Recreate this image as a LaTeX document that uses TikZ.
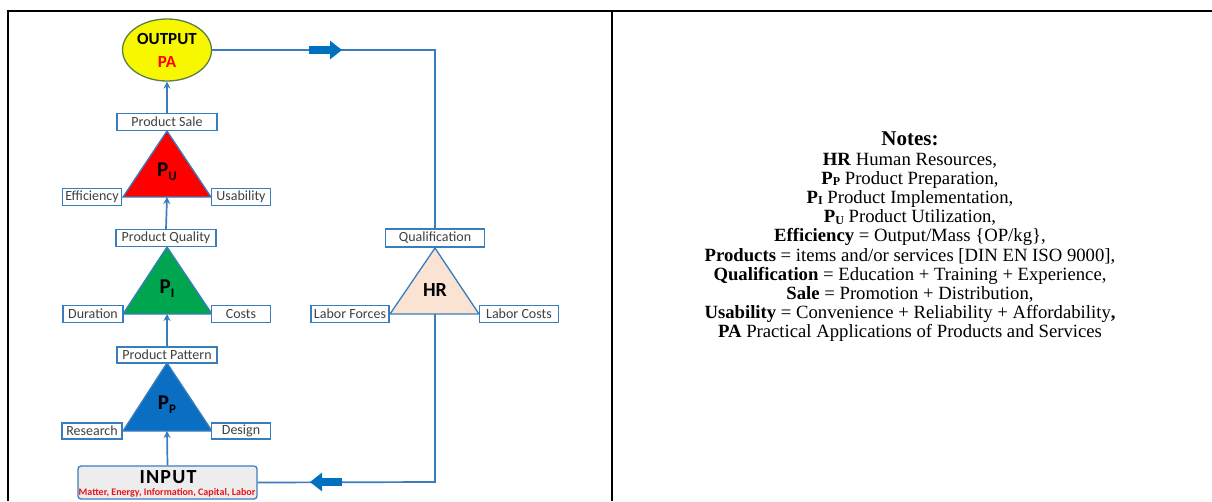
\documentclass[tikz,border=0pt]{standalone}
\usepackage{fontspec}
\setmainfont{Liberation Serif}
\newfontfamily\calfont{Carlito}
\usetikzlibrary{arrows.meta,shapes.geometric}
\definecolor{lineblue}{HTML}{3A7DBD}
\definecolor{blockblue}{HTML}{0070C0}
\definecolor{boxtext}{HTML}{404040}
\definecolor{ppblue}{HTML}{0A6EC2}
\definecolor{pigreen}{HTML}{00A550}
\definecolor{pured}{HTML}{FF0000}
\definecolor{hrpeach}{HTML}{FBE3D4}
\definecolor{outyellow}{HTML}{F7F700}
\definecolor{outedge}{HTML}{5B7F45}
\definecolor{inputgray}{HTML}{EDEDED}
\definecolor{inred}{HTML}{E8141C}
\tikzset{
  lbl/.style={draw=lineblue, line width=1.3pt, fill=white, text=boxtext,
    font=\calfont\fontsize{14}{16}\selectfont, inner sep=0pt,
    minimum height=17pt, anchor=center},
  conn/.style={draw=lineblue, line width=1.7pt},
  uparrow/.style={conn, -{Stealth[length=7pt,width=7pt]}},
  blockarrow/.style={draw=blockblue, line width=8.5pt,
    -{Triangle[length=12pt,width=18pt]}},
  tri/.style={draw=lineblue, line width=1.3pt, line join=miter},
  trilabel/.style={font=\calfont\bfseries\fontsize{21}{23}\selectfont, text=black, inner sep=0pt},
  frame/.style={line width=2.2pt, draw=black}
}
\begin{document}
\begin{tikzpicture}[x=1pt,y=-1pt]
\useasboundingbox (0,0) rectangle (1212,501);
% table frame
\draw[frame] (7,11) -- (1212,11);
\draw[frame] (8,11) -- (8,501);
\draw[frame] (612,11) -- (612,501);

% ---- coordinates of triangles
\coordinate (pu-top) at (167,131);
\coordinate (pu-l) at (123,197);
\coordinate (pu-r) at (211,197);
\coordinate (pu-b) at (167,197);
\coordinate (pi-top) at (167,247);
\coordinate (pi-l) at (123,314);
\coordinate (pi-r) at (212,314);
\coordinate (pi-b) at (167,314);
\coordinate (pp-top) at (167,363);
\coordinate (pp-l) at (123,431);
\coordinate (pp-r) at (212,431);
\coordinate (pp-b) at (167,431);
\coordinate (hr-top) at (435,248);
\coordinate (hr-l) at (390,314);
\coordinate (hr-r) at (479,314);
\coordinate (hr-b) at (435,314);

% triangles
\path[tri, fill=pured] (pu-top) -- (pu-l) -- (pu-r) -- cycle;
\path[tri, fill=pigreen] (pi-top) -- (pi-l) -- (pi-r) -- cycle;
\path[tri, fill=ppblue] (pp-top) -- (pp-l) -- (pp-r) -- cycle;
\path[tri, fill=hrpeach] (hr-top) -- (hr-l) -- (hr-r) -- cycle;

\node[trilabel] (pu) at (167,172) {P\raisebox{-4pt}{\fontsize{13}{13}\selectfont U}};
\node[trilabel] (pi) at (167,289) {P\raisebox{-4pt}{\fontsize{13}{13}\selectfont I}};
\node[trilabel] (pp) at (167,405) {P\raisebox{-4pt}{\fontsize{13}{13}\selectfont P}};
\node[trilabel, font=\calfont\bfseries\fontsize{20}{22}\selectfont] (hr) at (435,290) {HR};

% output ellipse
\node[ellipse, draw=outedge, line width=1.3pt, fill=outyellow,
  minimum width=89pt, minimum height=62pt, inner sep=0pt] (out) at (167,50) {};
\node[font=\calfont\bfseries\fontsize{17}{19}\selectfont, inner sep=0pt] (outt) at (167,39) {OUTPUT};
\node[font=\calfont\bfseries\fontsize{17}{19}\selectfont, text=pured, inner sep=0pt] (pa) at (167,62) {PA};

% boxes
\node[lbl, minimum width=100pt] (sale) at (167,122) {Product Sale};
\node[lbl, minimum width=59pt] (eff) at (92,197) {Efficiency};
\node[lbl, minimum width=59pt] (usa) at (241,197) {Usability};
\node[lbl, minimum width=100pt] (qual) at (166,238) {Product Quality};
\node[lbl, minimum width=60pt] (dur) at (93,314) {Duration};
\node[lbl, minimum width=59pt] (cost) at (241,314) {Costs};
\node[lbl, minimum width=100pt, minimum height=16pt] (patt) at (167,355) {Product Pattern};
\node[lbl, minimum width=60pt, minimum height=16pt] (res) at (92,431) {Research};
\node[lbl, minimum width=59pt, minimum height=16pt] (des) at (241,431) {Design};
\node[lbl, minimum width=99pt, minimum height=18pt] (qualif) at (435,238) {Qualification};
\node[lbl, minimum width=78pt] (lf) at (350,314) {Labor Forces};
\node[lbl, minimum width=79pt] (lc) at (519,314) {Labor Costs};

% input box
\node[draw=lineblue, line width=1.3pt, fill=inputgray, rounded corners=3pt,
  minimum width=179pt, minimum height=33pt, inner sep=0pt] (input) at (167.5,482.5) {};
\node[font=\calfont\bfseries\fontsize{20}{22}\selectfont, inner sep=0pt] (inputt) at (168,477) {\addfontfeature{LetterSpace=6}INPUT};
\node[font=\calfont\bfseries\fontsize{10}{11}\selectfont, text=inred, inner sep=0pt] (inputs) at (167,493) {Matter, Energy, Information, Capital, Labor};

% vertical arrows in the left column
\draw[uparrow] (sale.north) -- (out.south);
\draw[uparrow] (qual.north) -- (pu-b);
\draw[uparrow] (patt.north) -- (pi-b);
\draw[uparrow] (input.north) -- (pp-b);

% feedback loop
\coordinate (tr) at (435,50);
\coordinate (br) at (435,482);
\coordinate (ta1) at (309,50);
\coordinate (ta2) at (342,50);
\coordinate (ba1) at (342,482);
\coordinate (ba2) at (310,482);
\draw[conn] (out.east) -- (tr) -- (qualif.north);
\draw[conn] (hr-b) -- (br) -- (input.east);
\draw[blockarrow] (ta1) -- (ta2);
\draw[blockarrow] (ba1) -- (ba2);

% notes
\node[align=center, font=\fontsize{18.7}{19.2}\selectfont, inner sep=0pt] (notes) at (910,237) {%
{\fontsize{21}{19.2}\selectfont\textbf{Notes:}}\\
\textbf{HR} Human Resources,\\
\textbf{P{\fontsize{12}{12}\selectfont\raisebox{-1.5pt}{P}}} Product Preparation,\\
\textbf{P{\fontsize{12}{12}\selectfont\raisebox{-1.5pt}{I}}} Product Implementation,\\
\textbf{P{\fontsize{12}{12}\selectfont\raisebox{-1.5pt}{U}}} Product Utilization,\\
\textbf{Efficiency} = Output/Mass \{OP/kg\},\\
\textbf{Products} = items and/or services [DIN EN ISO 9000],\\
\textbf{Qualification} = Education + Training + Experience,\\
\textbf{Sale} = Promotion + Distribution,\\
\textbf{Usability} = Convenience + Reliability + Affordability\textbf{,}\\
\textbf{PA} Practical Applications of Products and Services};
\end{tikzpicture}
\end{document}
